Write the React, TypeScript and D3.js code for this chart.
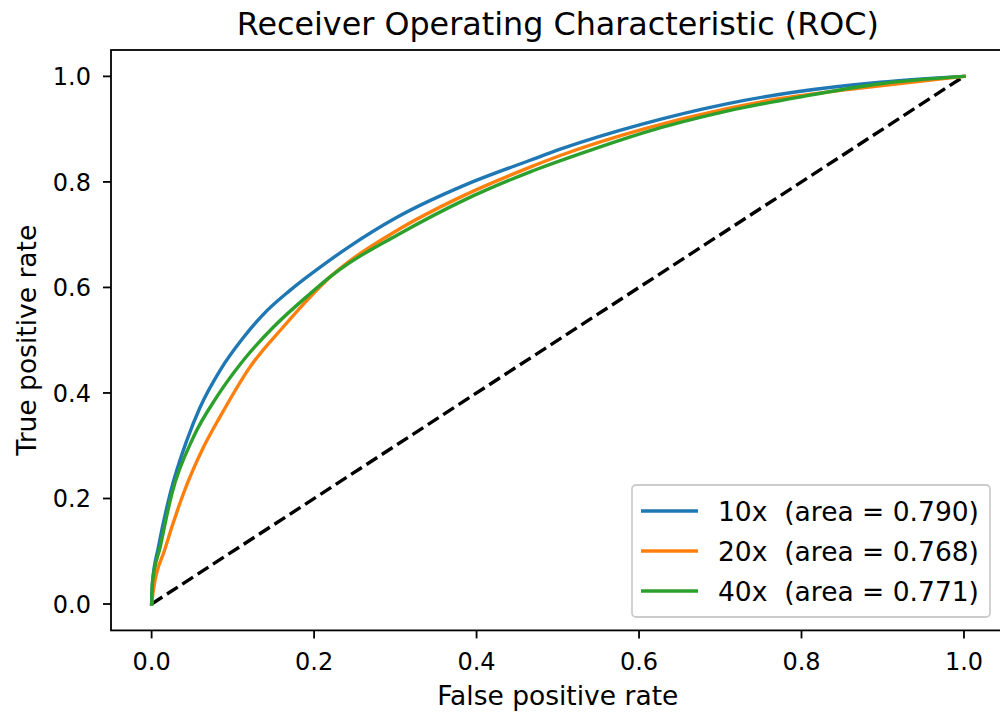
import React from "react";
import * as d3 from "d3";

// ROC curve points (fpr, tpr)
const fpr10 = [0, 0.001, 0.0084, 0.0228, 0.0433, 0.0597, 0.0843, 0.113, 0.142, 0.17, 0.216, 0.242, 0.302, 0.384, 0.466, 0.503, 0.605, 0.708, 0.79, 0.897, 1.0];
const tpr10 = [0, 0.04, 0.108, 0.209, 0.31, 0.373, 0.443, 0.505, 0.556, 0.594, 0.648, 0.676, 0.733, 0.793, 0.841, 0.862, 0.91, 0.948, 0.97, 0.989, 1.0];

const fpr20 = [0, 0.002, 0.0166, 0.0391, 0.0638, 0.0843, 0.121, 0.162, 0.191, 0.2197, 0.242, 0.302, 0.384, 0.466, 0.503, 0.605, 0.708, 0.774, 0.897, 1.0];
const tpr20 = [0, 0.025, 0.105, 0.209, 0.297, 0.355, 0.449, 0.525, 0.575, 0.62, 0.648, 0.708, 0.774, 0.828, 0.85, 0.9, 0.939, 0.958, 0.982, 1.0];

const fpr40 = [0, 0.001, 0.0105, 0.0249, 0.0514, 0.08, 0.113, 0.15, 0.195, 0.2197, 0.242, 0.302, 0.384, 0.466, 0.527, 0.605, 0.708, 0.798, 0.897, 1.0];
const tpr40 = [0, 0.04, 0.108, 0.209, 0.316, 0.392, 0.462, 0.525, 0.588, 0.62, 0.645, 0.699, 0.765, 0.819, 0.853, 0.893, 0.934, 0.961, 0.986, 1.0];

const seriesNames = ["10x  (area = 0.790)", "20x  (area = 0.768)", "40x  (area = 0.771)"];
const seriesColors = ["#1f77b4", "#ff7f0e", "#2ca02c"];
const ticks = [0, 0.2, 0.4, 0.6, 0.8, 1.0];

const W = 1000;
const H = 719;
const plot = { left: 111, right: 1004.6, top: 50, bottom: 630.4 };
const font = "DejaVu Sans, sans-serif";

export default function App() {
  const x = d3.scaleLinear().domain([-0.05, 1.05]).range([plot.left, plot.right]);
  const y = d3.scaleLinear().domain([-0.05, 1.05]).range([plot.bottom, plot.top]);

  const line = d3
    .line<[number, number]>()
    .x((d) => x(d[0]))
    .y((d) => y(d[1]))
    .curve(d3.curveMonotoneX);

  const series = [
    d3.zip(fpr10, tpr10) as [number, number][],
    d3.zip(fpr20, tpr20) as [number, number][],
    d3.zip(fpr40, tpr40) as [number, number][],
  ];

  const lg = { x: 632, y: 485, w: 358, h: 132 };

  return (
    <svg width={W} height={H} style={{ position: "absolute", left: 0, top: 0, background: "#fff" }}>
      <rect x={0} y={0} width={W} height={H} fill="#fff" />
      {/* diagonal */}
      <line
        x1={x(0)} y1={y(0)} x2={x(1)} y2={y(1)}
        stroke="#000" strokeWidth={3.4} strokeDasharray="12.8,5.5"
      />
      {series.map((s, i) => (
        <path key={i} d={line(s) || ""} fill="none" stroke={seriesColors[i]} strokeWidth={3.4} strokeLinejoin="round" strokeLinecap="square" />
      ))}

      {/* frame */}
      <rect x={plot.left} y={plot.top} width={plot.right - plot.left} height={plot.bottom - plot.top} fill="none" stroke="#000" strokeWidth={1.8} />

      {/* x ticks */}
      {ticks.map((t) => (
        <g key={"x" + t}>
          <line x1={x(t)} x2={x(t)} y1={plot.bottom} y2={plot.bottom + 8} stroke="#000" strokeWidth={1.8} />
          <text x={x(t)} y={670} textAnchor="middle" fontFamily={font} fontSize={24}>{t.toFixed(1)}</text>
        </g>
      ))}
      {/* y ticks */}
      {ticks.map((t) => (
        <g key={"y" + t}>
          <line x1={plot.left - 8} x2={plot.left} y1={y(t)} y2={y(t)} stroke="#000" strokeWidth={1.8} />
          <text x={91} y={y(t) + 8.7} textAnchor="end" fontFamily={font} fontSize={24}>{t.toFixed(1)}</text>
        </g>
      ))}

      <text x={(plot.left + plot.right) / 2} y={35} textAnchor="middle" fontFamily={font} fontSize={31.8}>
        Receiver Operating Characteristic (ROC)
      </text>
      <text x={(plot.left + plot.right) / 2} y={705} textAnchor="middle" fontFamily={font} fontSize={26.5}>
        False positive rate
      </text>
      <text transform={`translate(36,${(plot.top + plot.bottom) / 2}) rotate(-90)`} textAnchor="middle" fontFamily={font} fontSize={26.5}>
        True positive rate
      </text>

      {/* legend */}
      <rect x={lg.x} y={lg.y} width={lg.w} height={lg.h} rx={4} fill="#fff" fillOpacity={0.8} stroke="#cccccc" strokeWidth={1.8} />
      {seriesNames.map((n, i) => (
        <g key={n}>
          <line x1={641} x2={698} y1={511 + i * 40} y2={511 + i * 40} stroke={seriesColors[i]} strokeWidth={3.4} />
          <text x={718} y={511 + i * 40 + 9.6} fontFamily={font} fontSize={26.5} style={{ whiteSpace: "pre" }}>{n}</text>
        </g>
      ))}
    </svg>
  );
}
